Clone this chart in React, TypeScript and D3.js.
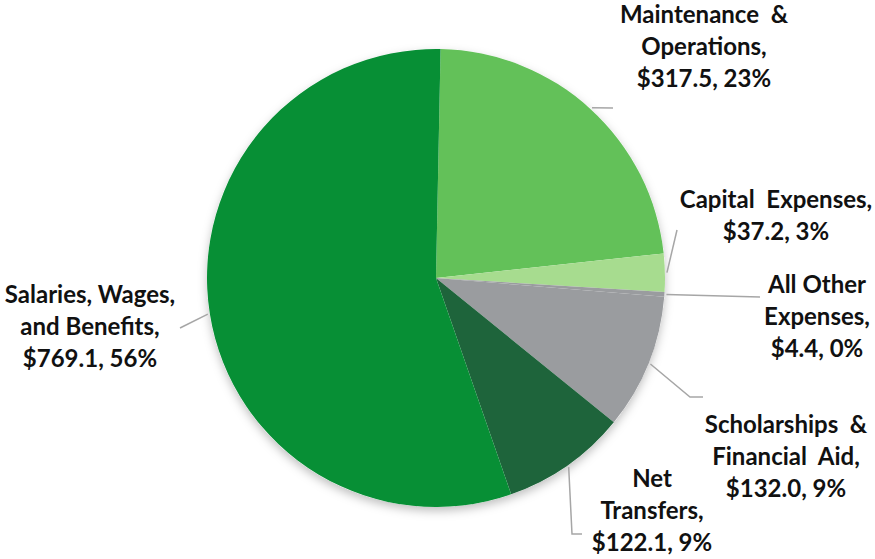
import React from "react";
import * as d3 from "d3";

const categories = [
  "Maintenance & Operations",
  "Capital Expenses",
  "All Other Expenses",
  "Scholarships & Financial Aid",
  "Net Transfers",
  "Salaries, Wages, and Benefits",
];
const values = [317.5, 37.2, 4.4, 132.0, 122.1, 769.1];
const percentLabels = ["23%", "3%", "0%", "9%", "9%", "56%"];
const nameLines = [
  ["Maintenance  &", "Operations,"],
  ["Capital  Expenses,"],
  ["All Other", "Expenses,"],
  ["Scholarships  &", "Financial  Aid,"],
  ["Net", "Transfers,"],
  ["Salaries, Wages,", "and Benefits,"],
];

const colors = ["#63c159", "#a7dc8f", "#9a9c9f", "#9a9c9f", "#1e643b", "#078f35"];

// layout (label centre x, first baseline y, leader path points after pie edge)
const layout = [
  { x: 704, y: 23, pts: [[613, 108]] },
  { x: 776, y: 208, pts: [[677, 230]] },
  { x: 817, y: 293, pts: [[760, 297]] },
  { x: 786, y: 433, pts: [[690, 397], [703, 397]] },
  { x: 652, y: 487, pts: [[572, 534], [582, 534]] },
  { x: 90, y: 303, pts: [[180, 328]] },
];

const W = 875, H = 559;
const cx = 436, cy = 278, R = 229;

export default function App() {
  const data = categories.map((c, i) => ({ c, v: values[i], i }));
  const pie = d3.pie<any>().value((d) => d.v).sort(null).startAngle(0.02).endAngle(2 * Math.PI + 0.02);
  const arcs = pie(data);
  const arc = d3.arc<any>().innerRadius(0).outerRadius(R);
  const fmt = d3.format(".1f");
  const lh = 32;
  return (
    <svg width={W} height={H} style={{ position: "absolute", left: 0, top: 0, background: "#fff" }}
      fontFamily="Lato, 'Open Sans', sans-serif">
      <defs>
        <filter id="sh" x="-20%" y="-20%" width="140%" height="140%">
          <feDropShadow dx="0" dy="4" stdDeviation="5" floodColor="#000" floodOpacity="0.25" />
        </filter>
      </defs>
      <g transform={`translate(${cx},${cy})`}>
        <circle r={R} fill="#fff" filter="url(#sh)" />
        {arcs.map((a, k) => (
          <path key={k} d={arc(a) || ""} fill={colors[k]} />
        ))}
      </g>
      {arcs.map((a, k) => {
        const mid = (a.startAngle + a.endAngle) / 2;
        const sx = cx + (R + 2) * Math.sin(mid);
        const sy = cy - (R + 2) * Math.cos(mid);
        const pts = [[sx, sy], ...layout[k].pts];
        return (
          <polyline key={"l" + k} points={pts.map((p) => p.join(",")).join(" ")}
            fill="none" stroke="#a6a6a6" strokeWidth={1.5} />
        );
      })}
      {arcs.map((a, k) => {
        const lines = [...nameLines[k], `$${fmt(values[k])}, ${percentLabels[k]}`];
        return (
          <text key={"t" + k} x={layout[k].x} y={layout[k].y} textAnchor="middle"
            fontSize={24} fontWeight={700} fill="#111" style={{ whiteSpace: "pre" }}>
            {lines.map((ln, j) => (
              <tspan key={j} x={layout[k].x} y={layout[k].y + j * lh}>{ln}</tspan>
            ))}
          </text>
        );
      })}
    </svg>
  );
}
